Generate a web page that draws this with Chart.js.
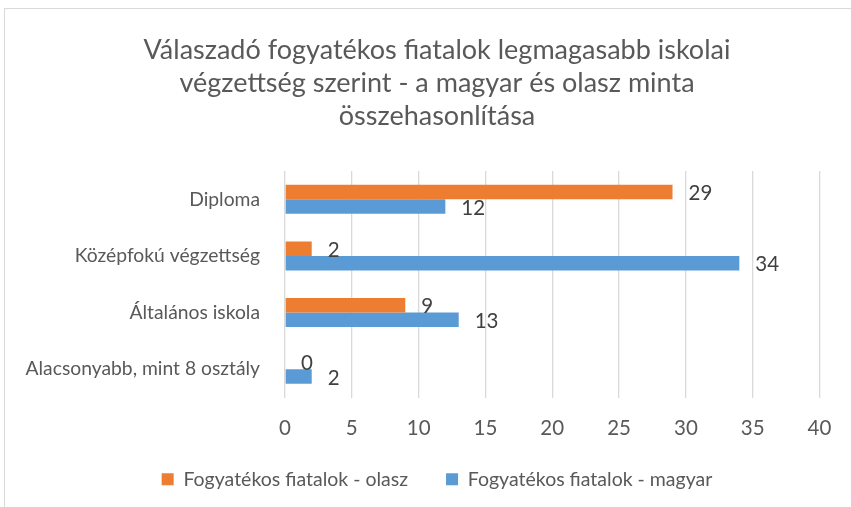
<!DOCTYPE html>
<html>
<head>
<meta charset="utf-8">
<script src="https://cdn.jsdelivr.net/npm/chart.js@4/dist/chart.umd.min.js"></script>
<style>
  html, body { margin: 0; padding: 0; background: #fff; overflow: hidden; }
  body { width: 851px; height: 507px; position: relative; }
  #frame {
    position: absolute; left: 4px; top: 8px;
    width: 900px; height: 520px;
    border-left: 1px solid #d9d9d9; border-top: 1px solid #d9d9d9;
  }
  #wrap { position: absolute; left: 5px; top: 9px; width: 864px; height: 510px; }
</style>
</head>
<body>
<div id="frame"></div>
<div id="wrap"><canvas id="chart"></canvas></div>
<script>
const titleLines = [
    'Válaszadó fogyatékos fiatalok legmagasabb iskolai',
    'végzettség szerint - a magyar és olasz minta',
    'összehasonlítása'
];
const categories = ['Diploma', 'Középfokú végzettség', 'Általános iskola', 'Alacsonyabb, mint 8 osztály'];
const seriesNames = ['Fogyatékos fiatalok - olasz', 'Fogyatékos fiatalok - magyar'];
const olaszValues = [29, 2, 9, 0];
const magyarValues = [12, 34, 13, 2];
const xTicks = [0, 5, 10, 15, 20, 25, 30, 35, 40];

const FONT = 'Lato, "Open Sans", sans-serif';
const TEXT = '#595959';

// value labels right of each bar end
const barLabels = {
    id: 'barLabels',
    afterDatasetsDraw(chart) {
        const ctx = chart.ctx;
        ctx.save();
        ctx.font = '20.5px ' + FONT;
        ctx.fillStyle = '#404040';
        ctx.textAlign = 'left';
        ctx.textBaseline = 'middle';
        chart.data.datasets.forEach((ds, i) => {
            chart.getDatasetMeta(i).data.forEach((bar, j) => {
                ctx.fillText(String(ds.data[j]), bar.x + 16, bar.y + 1.5);
            });
        });
        ctx.restore();
    }
};

// legend padding also spaces the items apart, so pull the block up a bit
const legendLift = {
    id: 'legendLift',
    afterLayout(chart) {
        chart.legend.top -= 10;
        chart.legend.bottom -= 10;
    }
};

new Chart(document.getElementById('chart'), {
    type: 'bar',
    data: {
        labels: categories,
        datasets: [
            {
                label: seriesNames[0],
                data: olaszValues,
                backgroundColor: '#ed7d31',
                categoryPercentage: 0.513,
                barPercentage: 1
            },
            {
                label: seriesNames[1],
                data: magyarValues,
                backgroundColor: '#5b9bd5',
                categoryPercentage: 0.513,
                barPercentage: 1
            }
        ]
    },
    options: {
        indexAxis: 'y',
        responsive: true,
        maintainAspectRatio: false,
        animation: false,
        layout: { padding: { left: 0, right: 0, top: 0, bottom: 10 } },
        scales: {
            x: {
                min: 0,
                max: 40,
                afterBuildTicks: s => { s.ticks = xTicks.map(v => ({ value: v })); },
                afterFit: s => { s.height = 44; },
                grid: { color: '#d9d9d9', lineWidth: 1.3, drawTicks: false },
                border: { display: false },
                ticks: { color: TEXT, font: { family: FONT, size: 20.5 }, padding: 19 }
            },
            y: {
                afterFit: s => { s.width = 280; },
                grid: { display: false },
                border: { display: false },
                ticks: { color: TEXT, font: { family: FONT, size: 19.3 }, padding: 17 }
            },
            // empty spacer on the right so title/legend stay centred on the whole box
            yRight: {
                type: 'linear',
                position: 'right',
                afterFit: s => { s.width = 49.5; },
                grid: { display: false },
                border: { display: false },
                ticks: { display: false }
            }
        },
        plugins: {
            title: {
                display: true,
                text: titleLines,
                color: TEXT,
                font: { family: FONT, size: 27, weight: 'normal', lineHeight: 33 / 27 },
                padding: { top: 24.5, bottom: 38.5 }
            },
            legend: {
                position: 'bottom',
                labels: {
                    color: TEXT,
                    font: { family: FONT, size: 19.5 },
                    boxWidth: 12,
                    boxHeight: 12,
                    padding: 38
                }
            },
            tooltip: { enabled: false }
        }
    },
    plugins: [barLabels, legendLift]
});
</script>
</body>
</html>
